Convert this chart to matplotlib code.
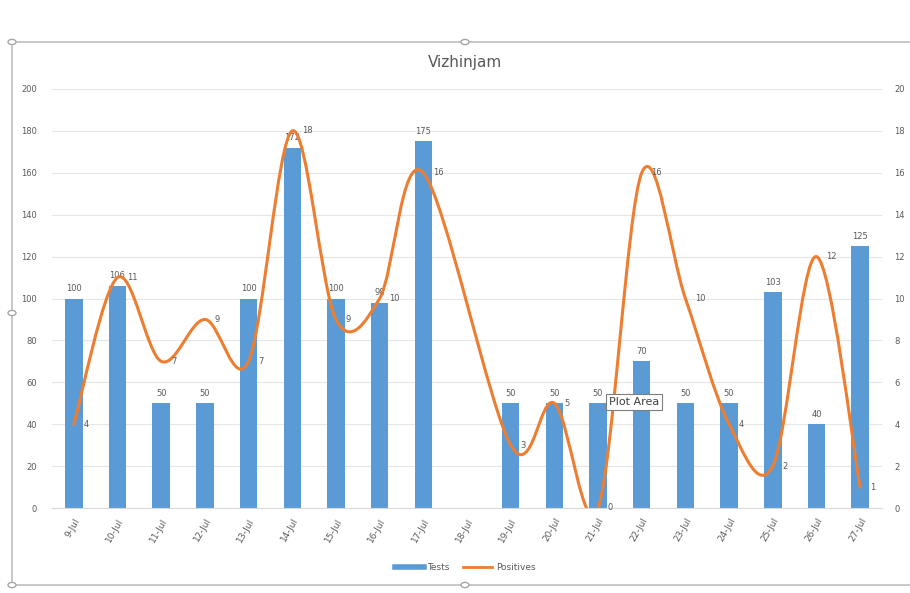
import numpy as np
import matplotlib
matplotlib.use("Agg")
import matplotlib.pyplot as plt
from matplotlib.path import Path
from matplotlib.patches import PathPatch, Rectangle, Circle
from matplotlib.lines import Line2D

dates = ["9-Jul", "10-Jul", "11-Jul", "12-Jul", "13-Jul", "14-Jul", "15-Jul", "16-Jul",
         "17-Jul", "18-Jul", "19-Jul", "20-Jul", "21-Jul", "22-Jul", "23-Jul", "24-Jul",
         "25-Jul", "26-Jul", "27-Jul"]
tests = [100, 106, 50, 50, 100, 172, 100, 98, 175, np.nan, 50, 50, 50, 70, 50, 50, 103, 40, 125]
positives = [4, 11, 7, 9, 7, 18, 9, 10, 16, np.nan, 3, 5, 0, 16, 10, 4, 2, 12, 1]
title = "Vizhinjam"

BAR = "#5B9BD5"
LINE = "#ED7D31"

W, H = 910, 593
fig = plt.figure(figsize=(W / 100, H / 100), dpi=100)
fig.patch.set_facecolor("white")

def px(x0, y0, x1, y1):
    return [x0 / W, 1 - y1 / H, (x1 - x0) / W, (y1 - y0) / H]

ax = fig.add_axes(px(52, 89, 882, 508))
ax2 = ax.twinx()
x = np.arange(len(dates))

# bars
t = np.array(tests, dtype=float)
ax.bar(x, np.nan_to_num(t), width=0.4, color=BAR, zorder=2)
for xi, v in zip(x, t):
    if not np.isnan(v):
        ax.annotate(f"{int(v)}", (xi, v), xytext=(0, 4), textcoords="offset points",
                    ha="center", va="bottom", fontsize=6, color="#595959")

ax.set_ylim(0, 200)
ax.set_yticks(np.arange(0, 201, 20))
ax.set_xlim(-0.5, len(dates) - 0.5)
ax.set_xticks(x)
ax.set_xticklabels(dates, rotation=60, ha="right", va="top", rotation_mode="anchor",
                   fontsize=6.5, color="#595959")
ax.tick_params(axis="x", length=0, pad=6)
ax.tick_params(axis="y", length=0, labelsize=6, labelcolor="#595959", pad=11)
ax.grid(axis="y", color="#E6E6E6", linewidth=0.8, zorder=0)
ax.set_axisbelow(True)
for s in ["top", "right", "left"]:
    ax.spines[s].set_visible(False)
ax.spines["bottom"].set_color("#D9D9D9")

# smoothed line (Excel-like Bezier spline through valid points)
p = np.array(positives, dtype=float)
mask = ~np.isnan(p)
px_ = x[mask].astype(float)
py_ = p[mask]
pts = np.column_stack([px_, py_])
n = len(pts)
verts = [pts[0]]
codes = [Path.MOVETO]
for i in range(n - 1):
    p0 = pts[i - 1] if i > 0 else pts[i]
    p1 = pts[i]
    p2 = pts[i + 1]
    p3 = pts[i + 2] if i + 2 < n else pts[i + 1]
    c1 = p1 + (p2 - p0) / 6.0
    c2 = p2 - (p3 - p1) / 6.0
    verts += [c1, c2, p2]
    codes += [Path.CURVE4] * 3
path = Path(verts, codes)
ax2.add_patch(PathPatch(path, facecolor="none", edgecolor=LINE, linewidth=2.2,
                        capstyle="round", joinstyle="round", zorder=3))
for xi, v in zip(px_, py_):
    ax2.annotate(f"{int(v)}", (xi, v), xytext=(7, 0), textcoords="offset points",
                 ha="left", va="center", fontsize=6, color="#595959")

ax2.set_ylim(0, 20)
ax2.set_yticks(np.arange(0, 21, 2))
ax2.tick_params(axis="y", length=0, labelsize=6, labelcolor="#595959", pad=9)
for s in ["top", "right", "left", "bottom"]:
    ax2.spines[s].set_visible(False)

# title
fig.text(465 / W, 1 - 63 / H, title, ha="center", va="center", fontsize=11, color="#595959")

# legend
handles = [Line2D([], [], color=BAR, linewidth=4), Line2D([], [], color=LINE, linewidth=2)]
fig.legend(handles, ["Tests", "Positives"], loc="center", bbox_to_anchor=(465 / W, 1 - 568 / H),
           ncol=2, frameon=False, fontsize=6.5, labelcolor="#595959", handlelength=3.2,
           columnspacing=1.5, handletextpad=0.4)

# chart-area frame and handles (selected chart)
frame = Rectangle((12 / W, 1 - 585 / H), (930 - 12) / W, (585 - 42) / H,
                  transform=fig.transFigure, fill=False, edgecolor="#BFBFBF", linewidth=1.2)
fig.add_artist(frame)
for (cx, cy) in [(465, 42), (12, 313), (465, 585), (12, 585), (12, 42)]:
    fig.add_artist(Circle((cx / W, 1 - cy / H), 4 / W, transform=fig.transFigure,
                          facecolor="white", edgecolor="#A6A6A6", linewidth=1))

# "Plot Area" tooltip
fig.text(634 / W, 1 - 402 / H, "Plot Area", ha="center", va="center", fontsize=8, color="#404040",
         bbox=dict(boxstyle="square,pad=0.3", facecolor="white", edgecolor="#7F7F7F", linewidth=0.8),
         zorder=10)

fig.savefig("out.png", dpi=100, facecolor="white")
